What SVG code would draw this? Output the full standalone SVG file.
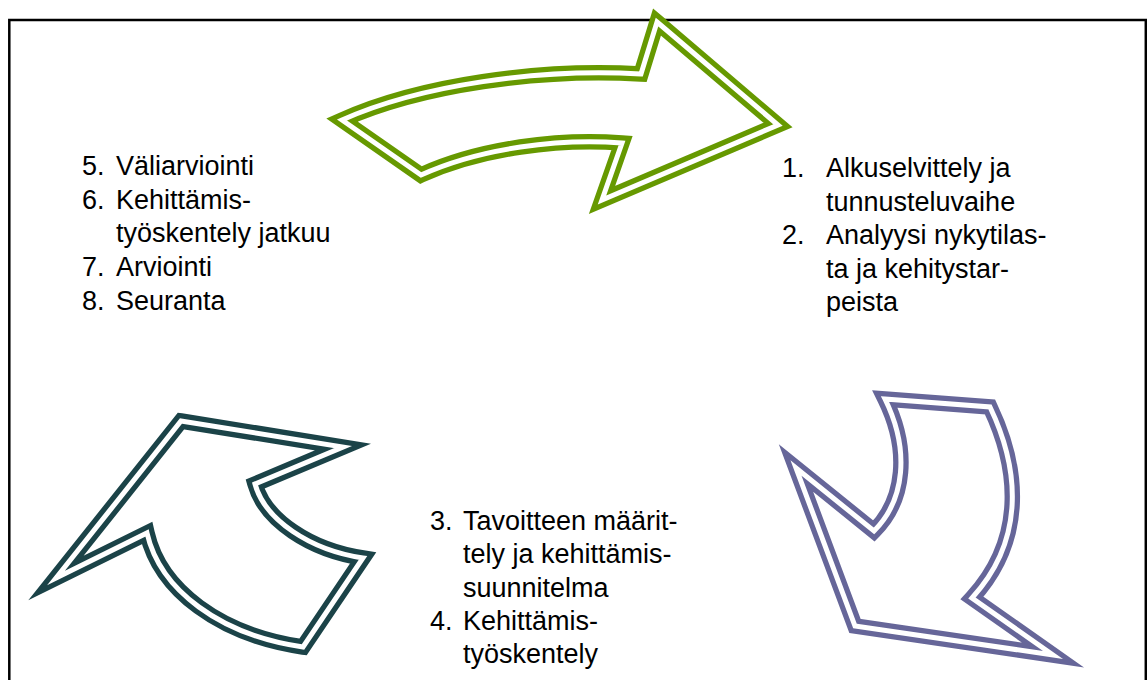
<svg xmlns="http://www.w3.org/2000/svg" xmlns:xlink="http://www.w3.org/1999/xlink" width="1147" height="680" viewBox="0 0 1147 680">
  <style>
    .frame { fill: none; stroke: #000; stroke-width: 2.5; }
    .outer { fill: #fff; stroke-width: 15.5; stroke-linejoin: miter; stroke-miterlimit: 10; }
    .inner { fill: none; stroke: #fff; stroke-width: 5; stroke-linejoin: miter; stroke-miterlimit: 10; }
    .green { stroke: #669900; }
    .purple { stroke: #666699; }
    .teal { stroke: #1b4348; }
    .label { font-family: "Liberation Sans", Arial, sans-serif; font-size: 27px; fill: #000; }
  </style>
  <defs>
    <path id="p-green" d="M657,22 L778,125 L602,200 L622,143 C560,138 480,148 421,175 L342,120 C420,85 540,68 641,74 Z"/>
    <path id="p-purple" d="M885,399 L990,407 C1020,470 1025,540 972,598 L1053,655 L855,626 L796,468 L874,531 C905,500 910,450 885,399 Z"/>
    <path id="p-teal" d="M181,421 L343,447 L255,484 C265,520 310,550 363,558 L303,647 C220,635 160,590 147,533 L56,578 Z"/>
  </defs>
  <rect class="frame" x="9.3" y="20" width="1136.5" height="700"/>
  <g id="connectors">
    <g id="arrow-green">
      <use xlink:href="#p-green" href="#p-green" class="outer green"/>
      <use xlink:href="#p-green" href="#p-green" class="inner"/>
    </g>
    <g id="arrow-purple">
      <use xlink:href="#p-purple" href="#p-purple" class="outer purple"/>
      <use xlink:href="#p-purple" href="#p-purple" class="inner"/>
    </g>
    <g id="arrow-teal">
      <use xlink:href="#p-teal" href="#p-teal" class="outer teal"/>
      <use xlink:href="#p-teal" href="#p-teal" class="inner"/>
    </g>
  </g>
  <g id="node-steps-1-2" class="label">
    <text x="782" y="177">1.</text>
    <text x="826" y="177">Alkuselvittely ja</text>
    <text x="826" y="210.5">tunnusteluvaihe</text>
    <text x="782" y="244">2.</text>
    <text x="826" y="244">Analyysi nykytilas-</text>
    <text x="826" y="277.5">ta ja kehitystar-</text>
    <text x="826" y="311">peista</text>
  </g>
  <g id="node-steps-3-4" class="label">
    <text x="430" y="530">3.</text>
    <text x="463" y="530">Tavoitteen määrit-</text>
    <text x="463" y="563.3">tely ja kehittämis-</text>
    <text x="463" y="596.6">suunnitelma</text>
    <text x="430" y="630">4.</text>
    <text x="463" y="630">Kehittämis-</text>
    <text x="463" y="663">työskentely</text>
  </g>
  <g id="node-steps-5-8" class="label">
    <text x="82" y="175">5.</text>
    <text x="116" y="175">Väliarviointi</text>
    <text x="82" y="208.5">6.</text>
    <text x="116" y="208.5">Kehittämis-</text>
    <text x="116" y="242">työskentely jatkuu</text>
    <text x="82" y="276">7.</text>
    <text x="116" y="276">Arviointi</text>
    <text x="82" y="310">8.</text>
    <text x="116" y="310">Seuranta</text>
  </g>
</svg>
